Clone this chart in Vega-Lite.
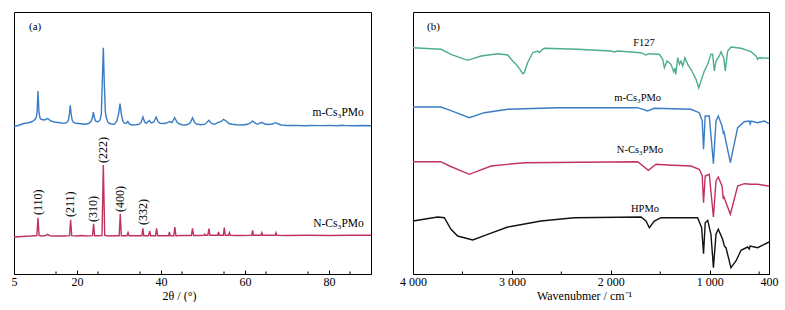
{
  "$schema": "https://vega.github.io/schema/vega-lite/v6.json",
  "padding": {"left": 10, "top": 11, "right": 5, "bottom": 0},
  "bounds": "flush",
  "spacing": 42,
  "resolve": {"scale": {"color": "independent"}},
  "config": {
    "font": "Liberation Serif",
    "view": {"stroke": "black", "strokeWidth": 1},
    "axis": {"domainColor": "black", "tickColor": "black", "labelColor": "black", "titleColor": "black", "labelFont": "Liberation Serif", "titleFont": "Liberation Serif", "labelFontSize": 12, "titleFontSize": 12, "titleFontWeight": "normal", "grid": false, "labelFlush": false, "labelPadding": 6, "tickWidth": 1, "titlePadding": 3}
  },
  "datasets": {
    "xrd": [
      {"s":"m","x":5,"y":147.3},{"s":"m","x":6,"y":148.5},{"s":"m","x":7,"y":150},{"s":"m","x":7.5,"y":150.7},{"s":"m","x":8.2,"y":151},{"s":"m","x":9,"y":152},{"s":"m","x":9.6,"y":153},{"s":"m","x":10.0,"y":154.7},{"s":"m","x":10.3,"y":157},{"s":"m","x":10.48,"y":161.3},{"s":"m","x":10.71,"y":183},{"s":"m","x":10.95,"y":161.3},{"s":"m","x":11.2,"y":156},{"s":"m","x":11.43,"y":154.7},{"s":"m","x":12.2,"y":154},{"s":"m","x":13.0,"y":155.5},{"s":"m","x":13.8,"y":153},{"s":"m","x":14.6,"y":152},{"s":"m","x":15.5,"y":151.5},{"s":"m","x":16.3,"y":151},{"s":"m","x":17.0,"y":150.7},{"s":"m","x":17.6,"y":151.5},{"s":"m","x":17.95,"y":154},{"s":"m","x":18.2,"y":160},{"s":"m","x":18.4,"y":168.7},{"s":"m","x":18.6,"y":160},{"s":"m","x":18.85,"y":154},{"s":"m","x":19.2,"y":151.5},{"s":"m","x":19.8,"y":150.7},{"s":"m","x":21,"y":150.2},{"s":"m","x":22,"y":149.7},{"s":"m","x":22.8,"y":150.5},{"s":"m","x":23.4,"y":153},{"s":"m","x":23.7,"y":157},{"s":"m","x":23.9,"y":162},{"s":"m","x":24.1,"y":157},{"s":"m","x":24.4,"y":153},{"s":"m","x":25.0,"y":152},{"s":"m","x":25.5,"y":154},{"s":"m","x":25.8,"y":160},{"s":"m","x":26.0,"y":190},{"s":"m","x":26.27,"y":226.3},{"s":"m","x":26.5,"y":190},{"s":"m","x":26.75,"y":162},{"s":"m","x":27.0,"y":156},{"s":"m","x":27.45,"y":151},{"s":"m","x":28.2,"y":150},{"s":"m","x":28.9,"y":149.7},{"s":"m","x":29.5,"y":153},{"s":"m","x":29.9,"y":160},{"s":"m","x":30.24,"y":170.3},{"s":"m","x":30.55,"y":160},{"s":"m","x":30.9,"y":153},{"s":"m","x":31.3,"y":150.7},{"s":"m","x":31.8,"y":151},{"s":"m","x":32.1,"y":152.5},{"s":"m","x":32.5,"y":150},{"s":"m","x":33.0,"y":149},{"s":"m","x":34.0,"y":149.3},{"s":"m","x":34.8,"y":149.7},{"s":"m","x":35.3,"y":152},{"s":"m","x":35.7,"y":157},{"s":"m","x":36.1,"y":152},{"s":"m","x":36.5,"y":150.7},{"s":"m","x":37.2,"y":153.5},{"s":"m","x":37.7,"y":151},{"s":"m","x":38.3,"y":152},{"s":"m","x":38.85,"y":157},{"s":"m","x":39.3,"y":152.5},{"s":"m","x":39.8,"y":150.7},{"s":"m","x":40.5,"y":150.5},{"s":"m","x":41.2,"y":150.7},{"s":"m","x":42.0,"y":152.5},{"s":"m","x":42.6,"y":151.5},{"s":"m","x":43.25,"y":156.3},{"s":"m","x":43.8,"y":152},{"s":"m","x":44.4,"y":150},{"s":"m","x":45.5,"y":148.7},{"s":"m","x":46.5,"y":149.7},{"s":"m","x":47.0,"y":151.5},{"s":"m","x":47.5,"y":156.3},{"s":"m","x":48.0,"y":151.5},{"s":"m","x":48.6,"y":149.7},{"s":"m","x":49.5,"y":149.2},{"s":"m","x":50.5,"y":149.8},{"s":"m","x":51.4,"y":153.7},{"s":"m","x":52.0,"y":150.5},{"s":"m","x":52.8,"y":149.7},{"s":"m","x":53.5,"y":151.3},{"s":"m","x":54.3,"y":152.5},{"s":"m","x":54.9,"y":154.7},{"s":"m","x":55.5,"y":153},{"s":"m","x":56.2,"y":150.5},{"s":"m","x":56.9,"y":149.7},{"s":"m","x":58,"y":149.2},{"s":"m","x":59.5,"y":149},{"s":"m","x":60.6,"y":149.7},{"s":"m","x":61.3,"y":151},{"s":"m","x":61.8,"y":153},{"s":"m","x":62.4,"y":150.8},{"s":"m","x":63.0,"y":149.7},{"s":"m","x":63.6,"y":151},{"s":"m","x":64.1,"y":151.5},{"s":"m","x":64.7,"y":150},{"s":"m","x":65.5,"y":149.5},{"s":"m","x":66.5,"y":150},{"s":"m","x":67.3,"y":151.3},{"s":"m","x":68.0,"y":150},{"s":"m","x":68.6,"y":149},{"s":"m","x":70,"y":148.5},{"s":"m","x":72,"y":148.6},{"s":"m","x":74,"y":148.3},{"s":"m","x":76,"y":148.5},{"s":"m","x":78,"y":148.4},{"s":"m","x":80,"y":148.6},{"s":"m","x":82,"y":148.2},{"s":"m","x":83,"y":148.8},{"s":"m","x":84,"y":148.4},{"s":"m","x":86,"y":148.3},{"s":"m","x":88,"y":148.5},{"s":"m","x":90,"y":148.2},
      {"s":"N","x":5,"y":37},{"s":"N","x":7,"y":37.5},{"s":"N","x":9,"y":38},{"s":"N","x":10.45,"y":38.5},{"s":"N","x":10.71,"y":56.3},{"s":"N","x":10.97,"y":38.5},{"s":"N","x":11.5,"y":38},{"s":"N","x":12.5,"y":38.5},{"s":"N","x":13.0,"y":39.7},{"s":"N","x":13.5,"y":38.3},{"s":"N","x":15,"y":38},{"s":"N","x":17,"y":38},{"s":"N","x":18.22,"y":38.3},{"s":"N","x":18.48,"y":54.3},{"s":"N","x":18.74,"y":38.3},{"s":"N","x":20,"y":38},{"s":"N","x":21,"y":38.5},{"s":"N","x":22,"y":38},{"s":"N","x":23.7,"y":38.3},{"s":"N","x":23.95,"y":50.3},{"s":"N","x":24.2,"y":38.3},{"s":"N","x":25,"y":38.2},{"s":"N","x":25.95,"y":38.5},{"s":"N","x":26.27,"y":109},{"s":"N","x":26.6,"y":38.5},{"s":"N","x":27.5,"y":38},{"s":"N","x":29,"y":38.2},{"s":"N","x":30.05,"y":38.3},{"s":"N","x":30.3,"y":60.3},{"s":"N","x":30.55,"y":38.3},{"s":"N","x":31.9,"y":38.3},{"s":"N","x":32.15,"y":41.5},{"s":"N","x":32.4,"y":38.3},{"s":"N","x":35.45,"y":38.3},{"s":"N","x":35.68,"y":45.7},{"s":"N","x":35.9,"y":38.3},{"s":"N","x":37.05,"y":38.3},{"s":"N","x":37.3,"y":43},{"s":"N","x":37.55,"y":38.3},{"s":"N","x":38.7,"y":38.3},{"s":"N","x":38.95,"y":45.7},{"s":"N","x":39.2,"y":38.3},{"s":"N","x":41.8,"y":38.3},{"s":"N","x":42.0,"y":42},{"s":"N","x":42.2,"y":38.3},{"s":"N","x":43.05,"y":38.3},{"s":"N","x":43.3,"y":47},{"s":"N","x":43.55,"y":38.3},{"s":"N","x":45,"y":38.5},{"s":"N","x":47.25,"y":38.5},{"s":"N","x":47.5,"y":45.7},{"s":"N","x":47.75,"y":38.5},{"s":"N","x":49,"y":38.5},{"s":"N","x":50.2,"y":38.7},{"s":"N","x":50.4,"y":40},{"s":"N","x":50.6,"y":38.7},{"s":"N","x":51.15,"y":38.7},{"s":"N","x":51.4,"y":45.3},{"s":"N","x":51.65,"y":38.7},{"s":"N","x":53.5,"y":38.7},{"s":"N","x":53.7,"y":42},{"s":"N","x":53.9,"y":38.7},{"s":"N","x":54.85,"y":38.7},{"s":"N","x":55.07,"y":46.3},{"s":"N","x":55.3,"y":38.7},{"s":"N","x":56.1,"y":38.7},{"s":"N","x":56.3,"y":41.3},{"s":"N","x":56.5,"y":38.7},{"s":"N","x":58,"y":38.5},{"s":"N","x":61.6,"y":38.7},{"s":"N","x":61.8,"y":43.7},{"s":"N","x":62.0,"y":38.7},{"s":"N","x":63.8,"y":38.7},{"s":"N","x":64.0,"y":41.3},{"s":"N","x":64.2,"y":38.7},{"s":"N","x":67.2,"y":38.7},{"s":"N","x":67.4,"y":41.3},{"s":"N","x":67.6,"y":38.7},{"s":"N","x":70,"y":38.5},{"s":"N","x":75,"y":38.7},{"s":"N","x":80,"y":38.5},{"s":"N","x":85,"y":38.7},{"s":"N","x":90,"y":38.7}
    ],
    "hkl": [
      {"x":10.64,"y":59,"t":"(110)"},{"x":18.4,"y":57,"t":"(211)"},{"x":23.9,"y":52,"t":"(310)"},{"x":26.27,"y":111,"t":"(222)"},{"x":30.3,"y":62,"t":"(400)"},{"x":35.6,"y":49,"t":"(332)"}
    ],
    "labA": [
      {"x":88.3,"y":158,"t":"m-Cs₃PMo"},{"x":88.3,"y":47,"t":"N-Cs₃PMo"}
    ],
    "panA": [{"x":8.57,"y":247,"t":"(a)"}],
    "minA": [{"x":15},{"x":25},{"x":35},{"x":45},{"x":55},{"x":65},{"x":75},{"x":85}],
    "ftir": [
      {"s":"F","x":4000,"y":226.3},{"s":"F","x":3717,"y":224.7},{"s":"F","x":3616,"y":219.7},{"s":"F","x":3447,"y":213.7},{"s":"F","x":3312,"y":218},{"s":"F","x":3143,"y":220.3},{"s":"F","x":3042,"y":219},{"s":"F","x":2992,"y":213},{"s":"F","x":2958,"y":209.7},{"s":"F","x":2925,"y":205.7},{"s":"F","x":2891,"y":200.3},{"s":"F","x":2874,"y":201.3},{"s":"F","x":2841,"y":211.3},{"s":"F","x":2790,"y":221.3},{"s":"F","x":2740,"y":223},{"s":"F","x":2723,"y":221.5},{"s":"F","x":2689,"y":224.7},{"s":"F","x":2672,"y":225.7},{"s":"F","x":2335,"y":224.7},{"s":"F","x":1998,"y":223},{"s":"F","x":1964,"y":222},{"s":"F","x":1930,"y":223},{"s":"F","x":1694,"y":221.3},{"s":"F","x":1644,"y":219},{"s":"F","x":1610,"y":220.3},{"s":"F","x":1526,"y":219.7},{"s":"F","x":1509,"y":219.7},{"s":"F","x":1475,"y":214.7},{"s":"F","x":1458,"y":206.3},{"s":"F","x":1431,"y":213},{"s":"F","x":1391,"y":209.7},{"s":"F","x":1364,"y":202.3},{"s":"F","x":1350,"y":205.7},{"s":"F","x":1343,"y":199.7},{"s":"F","x":1323,"y":216.3},{"s":"F","x":1306,"y":209.7},{"s":"F","x":1290,"y":213},{"s":"F","x":1273,"y":208},{"s":"F","x":1250,"y":216.3},{"s":"F","x":1222,"y":209.7},{"s":"F","x":1189,"y":204.7},{"s":"F","x":1138,"y":194.7},{"s":"F","x":1110,"y":186},{"s":"F","x":1094,"y":191.3},{"s":"F","x":1054,"y":203},{"s":"F","x":1020,"y":209.7},{"s":"F","x":987,"y":219.7},{"s":"F","x":970,"y":219.7},{"s":"F","x":953,"y":203},{"s":"F","x":936,"y":213},{"s":"F","x":902,"y":218},{"s":"F","x":885,"y":222.3},{"s":"F","x":858,"y":216.3},{"s":"F","x":842,"y":203},{"s":"F","x":818,"y":223},{"s":"F","x":785,"y":227},{"s":"F","x":683,"y":225.7},{"s":"F","x":582,"y":222.3},{"s":"F","x":532,"y":218},{"s":"F","x":515,"y":214.7},{"s":"F","x":498,"y":216.3},{"s":"F","x":400,"y":215.7},
      {"s":"m","x":4000,"y":167},{"s":"m","x":3720,"y":167},{"s":"m","x":3650,"y":164.7},{"s":"m","x":3430,"y":156.3},{"s":"m","x":3279,"y":161.3},{"s":"m","x":3042,"y":164.7},{"s":"m","x":2537,"y":166.3},{"s":"m","x":1728,"y":166.3},{"s":"m","x":1627,"y":163},{"s":"m","x":1560,"y":165.7},{"s":"m","x":1189,"y":164.7},{"s":"m","x":1105,"y":161.3},{"s":"m","x":1075,"y":153},{"s":"m","x":1062,"y":124.7},{"s":"m","x":1045,"y":158},{"s":"m","x":1004,"y":158},{"s":"m","x":962,"y":110.3},{"s":"m","x":936,"y":153},{"s":"m","x":913,"y":158},{"s":"m","x":875,"y":148},{"s":"m","x":862,"y":141},{"s":"m","x":855,"y":142},{"s":"m","x":791,"y":111.3},{"s":"m","x":717,"y":146.3},{"s":"m","x":650,"y":152.3},{"s":"m","x":600,"y":153},{"s":"m","x":590,"y":150},{"s":"m","x":580,"y":153},{"s":"m","x":515,"y":151.3},{"s":"m","x":447,"y":153},{"s":"m","x":400,"y":150.3},
      {"s":"N","x":4000,"y":112.3},{"s":"N","x":3720,"y":112.3},{"s":"N","x":3630,"y":108},{"s":"N","x":3430,"y":99.7},{"s":"N","x":3211,"y":108},{"s":"N","x":2874,"y":111.3},{"s":"N","x":1728,"y":112.3},{"s":"N","x":1620,"y":103.7},{"s":"N","x":1542,"y":109.7},{"s":"N","x":1425,"y":109},{"s":"N","x":1189,"y":108},{"s":"N","x":1105,"y":104.7},{"s":"N","x":1075,"y":98},{"s":"N","x":1062,"y":71.3},{"s":"N","x":1045,"y":98},{"s":"N","x":1004,"y":99.7},{"s":"N","x":962,"y":57},{"s":"N","x":936,"y":93},{"s":"N","x":913,"y":97},{"s":"N","x":875,"y":88},{"s":"N","x":862,"y":75},{"s":"N","x":855,"y":77},{"s":"N","x":791,"y":59.7},{"s":"N","x":717,"y":88},{"s":"N","x":650,"y":90.3},{"s":"N","x":582,"y":89.7},{"s":"N","x":515,"y":89.7},{"s":"N","x":400,"y":88},
      {"s":"H","x":4000,"y":53},{"s":"H","x":3750,"y":57},{"s":"H","x":3683,"y":56.3},{"s":"H","x":3616,"y":44.7},{"s":"H","x":3548,"y":38},{"s":"H","x":3396,"y":34},{"s":"H","x":3245,"y":39.7},{"s":"H","x":3042,"y":47},{"s":"H","x":2706,"y":53},{"s":"H","x":2369,"y":56.3},{"s":"H","x":1694,"y":57},{"s":"H","x":1644,"y":53},{"s":"H","x":1610,"y":46.3},{"s":"H","x":1560,"y":53},{"s":"H","x":1492,"y":56.3},{"s":"H","x":1122,"y":56.3},{"s":"H","x":1081,"y":46.3},{"s":"H","x":1062,"y":20.3},{"s":"H","x":1045,"y":51.3},{"s":"H","x":1020,"y":53.7},{"s":"H","x":987,"y":39.7},{"s":"H","x":962,"y":6.3},{"s":"H","x":936,"y":39.7},{"s":"H","x":913,"y":44.7},{"s":"H","x":869,"y":34.7},{"s":"H","x":852,"y":28},{"s":"H","x":835,"y":26.3},{"s":"H","x":785,"y":6.3},{"s":"H","x":734,"y":13},{"s":"H","x":683,"y":23.7},{"s":"H","x":616,"y":27},{"s":"H","x":600,"y":25},{"s":"H","x":590,"y":28},{"s":"H","x":515,"y":26.3},{"s":"H","x":447,"y":29.7},{"s":"H","x":400,"y":32}
    ],
    "labB": [
      {"x":1664,"y":231.3,"t":"F127"},{"x":1728,"y":176.3,"t":"m-Cs₃PMo"},{"x":1705,"y":124,"t":"N-Cs₃PMo"},{"x":1654,"y":65,"t":"HPMo"}
    ],
    "panB": [{"x":3858,"y":247,"t":"(b)"}],
    "minB": [{"x":3500},{"x":2500},{"x":1500},{"x":500}]
  },
  "hconcat": [
    {
      "width": 357,
      "height": 262,
      "layer": [
        {
          "data": {"name": "xrd"},
          "mark": {"type": "line", "strokeWidth": 1.4},
          "encoding": {
            "x": {"field": "x", "type": "quantitative", "scale": {"domain": [5, 90], "nice": false, "zero": false},
              "axis": {"title": "2θ / (°)", "values": [5,10,20,30,40,50,60,70,80,90],
                "labelOverlap": "greedy", "labelSeparation": 0, "tickSize": -4, "labelPadding": 6,
                "titleX": 165}},
            "y": {"field": "y", "type": "quantitative", "scale": {"domain": [0, 262], "nice": false, "zero": false}, "axis": null},
            "color": {"field": "s", "type": "nominal", "scale": {"domain": ["m", "N"], "range": ["#3b7dc4", "#c1325d"]}, "legend": null}
          }
        },
        {
          "data": {"name": "minA"},
          "mark": {"type": "rule", "color": "black", "strokeWidth": 1},
          "encoding": {"x": {"field": "x", "type": "quantitative"}, "y": {"datum": 0}, "y2": {"datum": 2.5}}
        },
        {
          "data": {"name": "hkl"},
          "mark": {"type": "text", "angle": 270, "align": "left", "baseline": "middle", "fontSize": 12, "color": "black"},
          "encoding": {"x": {"field": "x", "type": "quantitative"}, "y": {"field": "y", "type": "quantitative"}, "text": {"field": "t"}}
        },
        {
          "data": {"name": "labA"},
          "mark": {"type": "text", "align": "right", "baseline": "alphabetic", "fontSize": 11.5, "color": "black"},
          "encoding": {"x": {"field": "x", "type": "quantitative"}, "y": {"field": "y", "type": "quantitative"}, "text": {"field": "t"}}
        },
        {
          "data": {"name": "panA"},
          "mark": {"type": "text", "align": "left", "baseline": "middle", "fontSize": 11, "color": "black"},
          "encoding": {"x": {"field": "x", "type": "quantitative"}, "y": {"field": "y", "type": "quantitative"}, "text": {"field": "t"}}
        }
      ]
    },
    {
      "width": 356,
      "height": 262,
      "layer": [
        {
          "data": {"name": "ftir"},
          "mark": {"type": "line", "strokeWidth": 1.4},
          "encoding": {
            "x": {"field": "x", "type": "quantitative", "scale": {"domain": [400, 4000], "reverse": true, "nice": false, "zero": false},
              "axis": {"title": "Wavenubmer /  cm⁻¹", "values": [4000,3000,2000,1000,400],
                "labelOverlap": false, "tickSize": -4, "labelPadding": 6,
                "labelExpr": "datum.value == 400 ? '400' : format(datum.value / 1000, 'd') + ' 000'",
                "titleX": 171}},
            "y": {"field": "y", "type": "quantitative", "scale": {"domain": [0, 262], "nice": false, "zero": false}, "axis": null},
            "color": {"field": "s", "type": "nominal", "scale": {"domain": ["F", "m", "N", "H"], "range": ["#4daf8a", "#3b7dc4", "#c1325d", "#111111"]}, "legend": null}
          }
        },
        {
          "data": {"name": "minB"},
          "mark": {"type": "rule", "color": "black", "strokeWidth": 1},
          "encoding": {"x": {"field": "x", "type": "quantitative"}, "y": {"datum": 0}, "y2": {"datum": 2.5}}
        },
        {
          "data": {"name": "labB"},
          "mark": {"type": "text", "align": "center", "baseline": "middle", "fontSize": 10.5, "color": "black"},
          "encoding": {"x": {"field": "x", "type": "quantitative"}, "y": {"field": "y", "type": "quantitative"}, "text": {"field": "t"}}
        },
        {
          "data": {"name": "panB"},
          "mark": {"type": "text", "align": "left", "baseline": "middle", "fontSize": 11, "color": "black"},
          "encoding": {"x": {"field": "x", "type": "quantitative"}, "y": {"field": "y", "type": "quantitative"}, "text": {"field": "t"}}
        }
      ]
    }
  ]
}
